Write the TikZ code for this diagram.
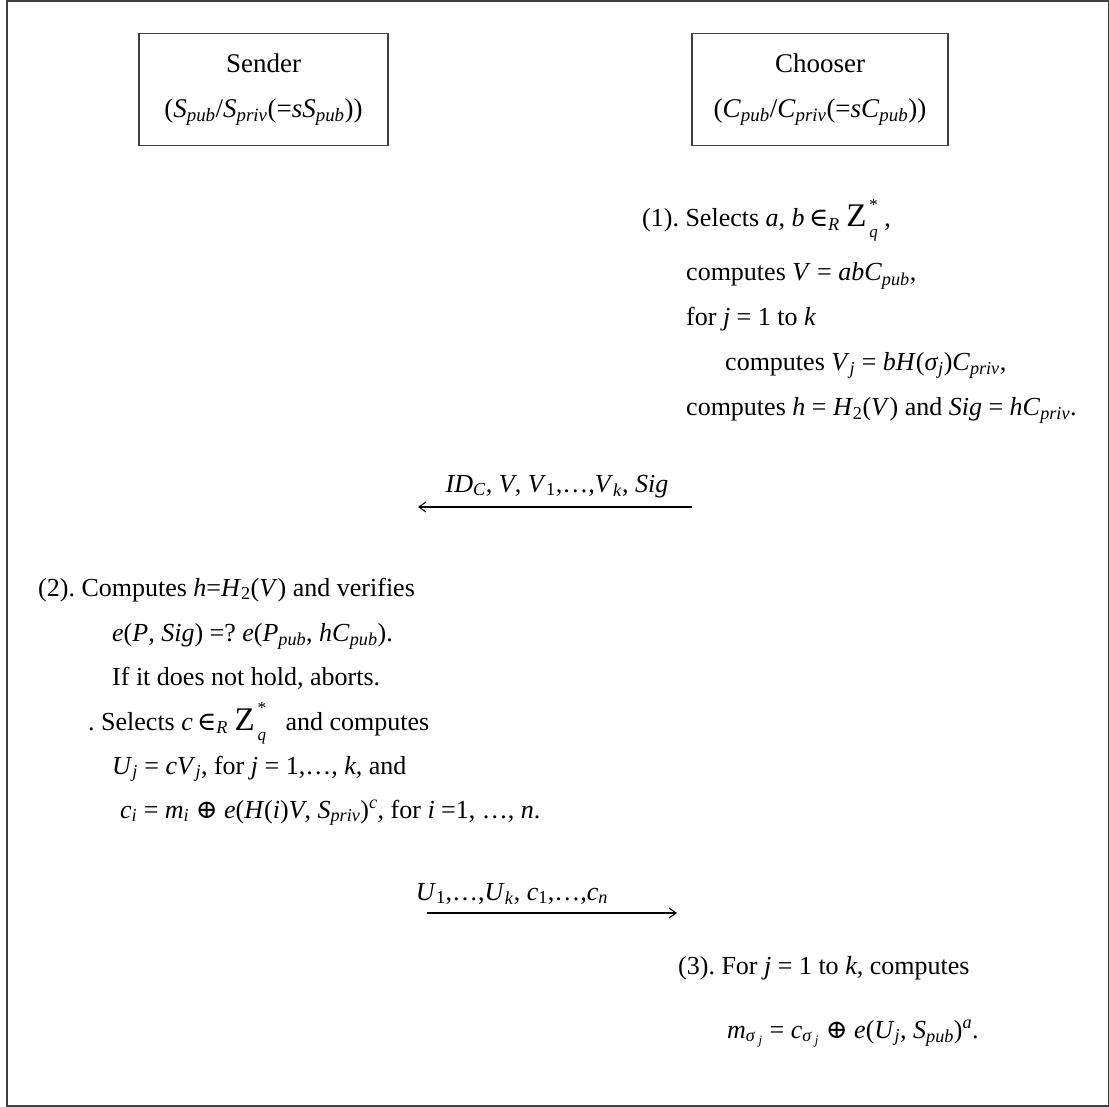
\documentclass[tikz,border=0pt]{standalone}
\usepackage{fontspec}
\setmainfont{Liberation Serif}
\newfontfamily\dvs{DejaVu Serif}
\usetikzlibrary{arrows.meta}
\frenchspacing
\newcommand{\V}[1]{\textit{#1}}
\newcommand{\sbi}[1]{\textsubscript{\textit{#1}}}
\newcommand{\spi}[1]{\textsuperscript{\textit{#1}}}
\newcommand{\Zq}{{\fontsize{33}{33}\selectfont Z}\makebox[0pt][l]{\raisebox{0.62em}{\fontsize{17}{17}\selectfont\,*}}\raisebox{-0.42em}{\fontsize{17}{17}\selectfont\,\V{q}}}
\newcommand{\inR}{{\dvs ∈}\sbi{R}}
\newcommand{\xor}{{\dvs ⊕}}
\begin{document}
\begin{tikzpicture}[x=1pt,y=-1pt,
  txt/.style={anchor=base west, inner sep=0pt, font=\fontsize{26}{30}\selectfont},
  boxst/.style={draw=black!75, line width=1.5pt, minimum width=249pt, minimum height=112pt, align=center, inner sep=0pt, font=\fontsize{27}{45}\selectfont},
  arr/.style={line width=1.1pt, -{Straight Barb[length=7pt,width=10pt]}}]
\useasboundingbox (0,0) rectangle (1109,1107);
\draw[black!75, line width=1.5pt] (7,1) rectangle (1108.5,1106);
% boxes
\node[boxst] (sender) at (263.5,89.5) {Sender\\(\V{S}\sbi{pub}/\V{S}\sbi{priv}(=\V{sS}\sbi{pub}))};
\node[boxst, minimum width=256pt] (chooser) at (820,89.5) {Chooser\\(\V{C}\sbi{pub}/\V{C}\sbi{priv}(=\V{sC}\sbi{pub}))};
% step 1
\node[txt] (s1a) at (642,227) {(1). Selects \V{a}, \V{b}\,\inR\ \Zq\ ,};
\node[txt] (s1b) at (686,281) {computes \V{V} = \V{abC}\sbi{pub},};
\node[txt] (s1c) at (686,326) {for \V{j} = 1 to \V{k}};
\node[txt] (s1d) at (725,371) {computes \V{V}\sbi{j} = \V{bH}(\V{σ}\sbi{j})\V{C}\sbi{priv},};
\node[txt] (s1e) at (686,416) {computes \V{h} = \V{H}\textsubscript{2}(\V{V}) and \V{Sig} = \V{hC}\sbi{priv}.};
% arrow 1
\coordinate (a1s) at (692,507);
\coordinate (a1e) at (418,507);
\draw[arr] (a1s) -- (a1e);
\node[txt, anchor=base] (l1) at (557,492) {\V{ID}\sbi{C}, \V{V}, \V{V}\textsubscript{1},…,\V{V}\sbi{k}, \V{Sig}};
% step 2
\node[txt] (s2a) at (38,596) {(2). Computes \V{h}=\V{H}\textsubscript{2}(\V{V}) and verifies};
\node[txt] (s2b) at (112,641) {\V{e}(\V{P}, \V{Sig}) =? \V{e}(\V{P}\sbi{pub}, \V{hC}\sbi{pub}).};
\node[txt] (s2c) at (112,685) {If it does not hold, aborts.};
\node[txt] (s2d) at (88,730) {. Selects \V{c}\,\inR\ \Zq\ \ \ and computes};
\node[txt] (s2e) at (112,774) {\V{U}\sbi{j} = \V{cV}\sbi{j}, for \V{j} = 1,…, \V{k}, and};
\node[txt] (s2f) at (120,818) {\V{c}\sbi{i} = \V{m}\sbi{i} \xor\ \V{e}(\V{H}(\V{i})\V{V}, \V{S}\sbi{priv})\spi{c}, for \V{i} =1, …, \V{n}.};
% arrow 2
\coordinate (a2s) at (427,913);
\coordinate (a2e) at (677,913);
\draw[arr] (a2s) -- (a2e);
\node[txt, anchor=base] (l2) at (512,900) {\V{U}\textsubscript{1},…,\V{U}\sbi{k}, \V{c}\textsubscript{1},…,\V{c}\sbi{n}};
% step 3
\node[txt] (s3a) at (678,974) {(3). For \V{j} = 1 to \V{k}, computes};
\node[txt] (s3b) at (727,1038) {\V{m}\textsubscript{\V{σ}\,\textsubscript{\V{j}}} = \V{c}\textsubscript{\V{σ}\,\textsubscript{\V{j}}} \xor\ \V{e}(\V{U}\sbi{j}, \V{S}\sbi{pub})\spi{a}.};
\end{tikzpicture}
\end{document}
